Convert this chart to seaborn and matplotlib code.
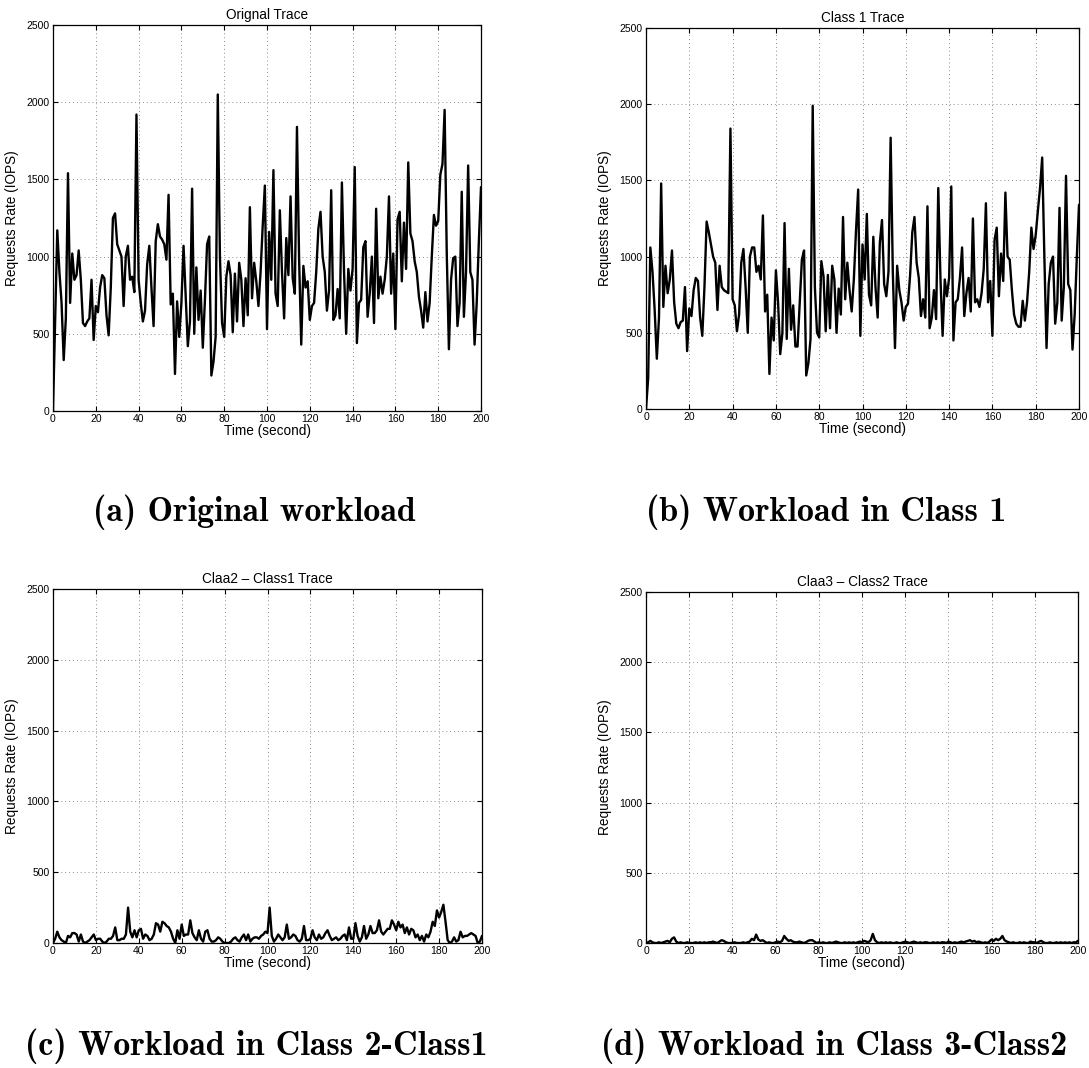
import numpy as np
import pandas as pd
import matplotlib
matplotlib.use("Agg")
import matplotlib.pyplot as plt
import seaborn as sns

# request rate (IOPS) per second
original = [
    0, 600, 1170, 900, 700, 330, 600, 1540, 700, 1020,
    850, 880, 1040, 850, 570, 550, 580, 600, 850, 460,
    680, 640, 800, 880, 860, 620, 490, 800, 1250, 1280,
    1080, 1040, 1000, 680, 1000, 1070, 850, 870, 770, 1920,
    850, 700, 580, 650, 950, 1070, 800, 550, 1100, 1210,
    1130, 1110, 1080, 980, 1400, 690, 760, 240, 710, 480,
    700, 1070, 740, 420, 580, 1440, 500, 930, 590, 780,
    410, 720, 1080, 1130, 230, 320, 480, 2050, 1000, 570,
    480, 870, 970, 880, 510, 890, 580, 960, 850, 550,
    860, 620, 1320, 730, 960, 840, 680, 900, 1200, 1460,
    530, 1160, 850, 1560, 760, 680, 1300, 900, 600, 1120,
    880, 1390, 860, 760, 1840, 980, 430, 940, 800, 840,
    590, 680, 700, 900, 1180, 1290, 1000, 900, 650, 780,
    1430, 590, 620, 790, 600, 1480, 900, 500, 920, 780,
    920, 1580, 440, 700, 720, 1060, 1100, 610, 760, 1000,
    570, 1310, 730, 870, 760, 850, 1000, 1390, 760, 1020,
    530, 1240, 1290, 840, 1220, 920, 1610, 1150, 1100, 970,
    900, 740, 650, 540, 770, 580, 700, 1000, 1270, 1200,
    1230, 1530, 1600, 1950, 1020, 400, 850, 990, 1000, 550,
    700, 1420, 610, 900, 1590, 900, 850, 430, 700, 1100,
    1450,
]

class1 = [
    0, 200, 1060, 900, 650, 330, 600, 1480, 670, 940,
    760, 850, 1040, 700, 560, 530, 570, 580, 800, 380,
    660, 610, 780, 860, 840, 600, 480, 800, 1230, 1160,
    1080, 1000, 960, 650, 940, 800, 780, 770, 760, 1840,
    720, 680, 510, 620, 960, 1050, 800, 500, 1000, 1060,
    1060, 900, 940, 850, 1270, 640, 750, 230, 600, 450,
    910, 700, 360, 500, 1220, 460, 920, 520, 680, 410,
    410, 700, 980, 1040, 220, 300, 460, 1990, 800, 500,
    470, 970, 870, 510, 880, 530, 940, 850, 500, 790,
    620, 1260, 720, 960, 780, 640, 850, 1170, 1440, 480,
    1080, 850, 1280, 750, 680, 1130, 800, 600, 1090, 1240,
    820, 740, 900, 1780, 900, 400, 940, 780, 700, 580,
    670, 690, 880, 1160, 1260, 960, 860, 610, 720, 600,
    1330, 530, 600, 780, 590, 1450, 860, 480, 850, 740,
    860, 1460, 450, 700, 720, 860, 1060, 610, 760, 860,
    640, 1250, 700, 720, 670, 760, 920, 1350, 700, 840,
    480, 1110, 1190, 740, 1020, 840, 1420, 1000, 980, 780,
    620, 560, 540, 540, 710, 580, 700, 900, 1190, 1050,
    1140, 1300, 1450, 1650, 1000, 400, 820, 960, 1000, 560,
    700, 1320, 580, 800, 1530, 820, 780, 390, 620, 1000,
    1340,
]

class2_minus_1 = [
    0, 30, 80, 40, 20, 10, 0, 50, 40, 70,
    70, 60, 10, 60, 10, 0, 10, 20, 40, 60,
    20, 30, 30, 10, 0, 10, 30, 30, 50, 110,
    20, 20, 30, 30, 60, 250, 80, 40, 90, 40,
    90, 100, 30, 60, 50, 20, 30, 60, 140, 130,
    80, 150, 140, 120, 110, 80, 30, 0, 90, 30,
    130, 50, 60, 60, 160, 70, 40, 20, 90, 30,
    10, 80, 90, 30, 10, 10, 20, 40, 30, 10,
    0, 0, 0, 10, 30, 40, 20, 10, 40, 60,
    20, 60, 10, 30, 40, 40, 30, 50, 60, 80,
    70, 250, 50, 10, 30, 60, 40, 20, 40, 130,
    30, 40, 60, 50, 20, 10, 30, 120, 20, 20,
    30, 90, 40, 20, 60, 30, 40, 70, 90, 50,
    20, 30, 40, 20, 30, 50, 60, 20, 110, 30,
    30, 140, 50, 10, 40, 120, 30, 60, 120, 70,
    70, 90, 160, 80, 60, 80, 100, 100, 160, 130,
    90, 150, 110, 130, 70, 110, 60, 100, 90, 40,
    60, 20, 50, 10, 60, 40, 80, 150, 120, 230,
    180, 220, 270, 150, 20, 0, 10, 40, 10, 20,
    80, 40, 50, 50, 60, 70, 60, 50, 0, 10,
    50,
]

class3_minus_2 = [
    0, 5, 15, 5, 0, 0, 5, 0, 5, 10,
    15, 5, 30, 40, 10, 0, 5, 0, 0, 5,
    0, 0, 0, 5, 0, 5, 0, 5, 0, 5,
    5, 10, 5, 0, 10, 20, 15, 5, 0, 0,
    0, 5, 0, 0, 0, 5, 0, 5, 10, 30,
    20, 60, 25, 15, 20, 10, 0, 5, 0, 0,
    5, 10, 5, 15, 50, 30, 15, 20, 10, 5,
    5, 10, 5, 0, 5, 15, 20, 20, 10, 0,
    5, 0, 5, 0, 0, 5, 0, 5, 10, 5,
    0, 0, 5, 0, 5, 0, 5, 0, 5, 10,
    5, 15, 10, 5, 20, 65, 20, 5, 0, 5,
    0, 5, 0, 5, 0, 0, 5, 0, 0, 5,
    10, 5, 0, 5, 10, 5, 0, 5, 0, 5,
    5, 0, 0, 5, 0, 5, 0, 5, 5, 0,
    10, 5, 0, 5, 0, 5, 10, 5, 10, 15,
    20, 10, 15, 5, 10, 5, 0, 5, 0, 10,
    25, 15, 30, 20, 30, 50, 20, 10, 5, 0,
    5, 0, 0, 5, 0, 5, 0, 0, 10, 5,
    5, 0, 10, 15, 5, 0, 0, 5, 0, 0,
    5, 0, 5, 0, 5, 0, 5, 0, 5, 5,
    15,
]

titles = ["Orignal Trace", "Class 1 Trace",
          "Claa2 \u2013 Class1 Trace", "Claa3 \u2013 Class2 Trace"]
captions = ["(a) Original workload", "(b) Workload in Class 1",
            "(c) Workload in Class 2-Class1", "(d) Workload in Class 3-Class2"]
x_ticks = list(range(0, 201, 20))
y_ticks = [0, 500, 1000, 1500, 2000, 2500]

sns.set_style("ticks")
plt.rcParams['font.family'] = ['Liberation Sans', 'DejaVu Sans']
for key in ['text.color', 'axes.labelcolor', 'xtick.color', 'ytick.color']:
    plt.rcParams[key] = 'black'

fig = plt.figure(figsize=(10.89, 10.68), dpi=100)
W, H = 1089, 1068
# axes boxes in pixels: left, top, right, bottom
boxes = [(53, 25, 481, 411), (646, 28, 1079, 409),
         (53, 589, 482, 943), (646, 592, 1078, 943)]
series = [original, class1, class2_minus_1, class3_minus_2]
caption_pos = [(254, 512), (826, 512), (256, 1046), (834, 1046)]

for vals, title, cap, (l, t, r, b), (cx, cy) in zip(series, titles, captions, boxes, caption_pos):
    ax = fig.add_axes([l / W, 1 - b / H, (r - l) / W, (b - t) / H])
    df = pd.DataFrame({'time': np.arange(len(vals)), 'rate': vals})
    sns.lineplot(data=df, x='time', y='rate', ax=ax, color='black', linewidth=1.7)
    ax.set_xlim(0, 200)
    ax.set_ylim(0, 2500)
    ax.set_xticks(x_ticks)
    ax.set_yticks(y_ticks)
    ax.grid(True, linestyle=(0, (1, 3)), color='0.55', linewidth=0.7)
    ax.tick_params(direction='in', length=3.5, width=0.8, labelsize=7.5,
                   top=True, right=True, pad=2.5)
    for s in ax.spines.values():
        s.set_linewidth(0.9)
        s.set_color('black')
    ax.set_title(title, fontsize=9.8, pad=4)
    ax.set_xlabel('Time (second)', fontsize=9.8, labelpad=0)
    ax.set_ylabel('Requests Rate (IOPS)', fontsize=9.8, labelpad=5)
    fig.text(cx / W, 1 - cy / H, cap, ha='center', va='center',
             fontsize=24.5, family='cmb10')

fig.savefig('out.png', dpi=100)
